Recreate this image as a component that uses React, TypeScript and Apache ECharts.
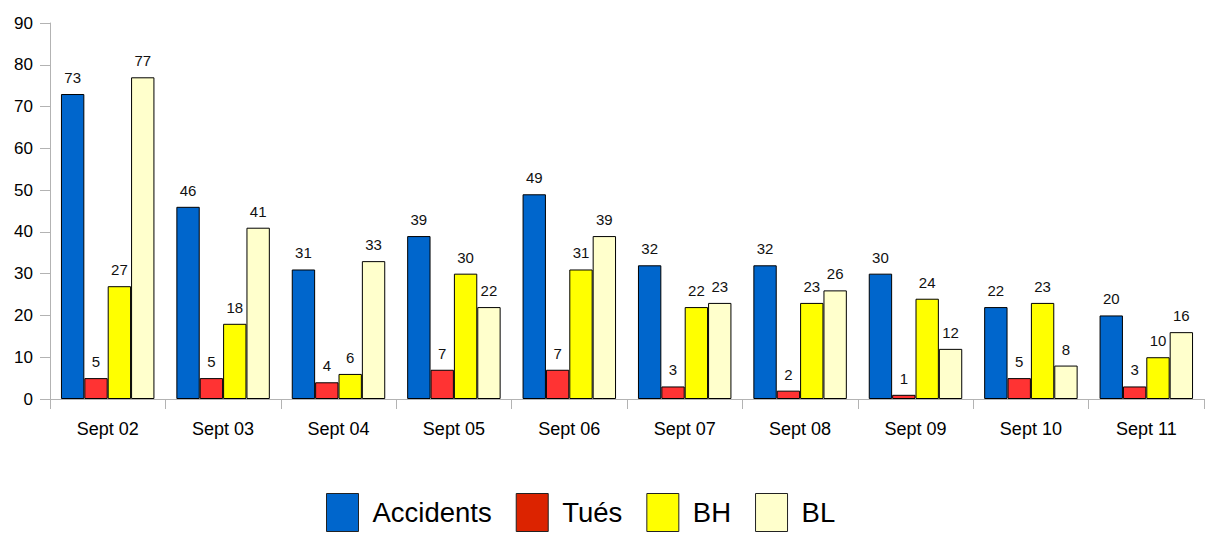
import React, { useEffect, useRef } from "react";
import * as echarts from "echarts";

const categories = ["Sept 02", "Sept 03", "Sept 04", "Sept 05", "Sept 06", "Sept 07", "Sept 08", "Sept 09", "Sept 10", "Sept 11"];
const accidents = [73, 46, 31, 39, 49, 32, 32, 30, 22, 20];
const tues = [5, 5, 4, 7, 7, 3, 2, 1, 5, 3];
const bh = [27, 18, 6, 30, 31, 22, 23, 24, 23, 10];
const bl = [77, 41, 33, 22, 39, 23, 26, 12, 8, 16];
const seriesNames = ["Accidents", "Tués", "BH", "BL"];

const FONT = "'Liberation Sans', Arial, sans-serif";

export default function App() {
  const ref = useRef<HTMLDivElement>(null);
  useEffect(() => {
    if (!ref.current) return;
    const chart = echarts.init(ref.current, null, { renderer: "svg" });
    const mk = (name: string, data: number[], color: string, legendColor: string) => ({
      name,
      type: "bar",
      data,
      barGap: "0%",
      barCategoryGap: "19%",
      itemStyle: { color, borderColor: "#000", borderWidth: 1 },
      label: {
        show: true,
        position: "top",
        distance: 9,
        fontFamily: FONT,
        fontSize: 15,
        color: "#111",
      },
      _legendColor: legendColor,
    });
    const series = [
      mk(seriesNames[0], accidents, "#0066cc", "#0066cc"),
      mk(seriesNames[1], tues, "#ff3333", "#dc2300"),
      mk(seriesNames[2], bh, "#ffff00", "#ffff00"),
      mk(seriesNames[3], bl, "#ffffcc", "#ffffcc"),
    ];
    chart.setOption({
      animation: false,
      grid: { left: 50, right: 1, top: 23, bottom: 136 },
      legend: {
        bottom: 3,
        left: 326,
        padding: 0,
        itemWidth: 32,
        itemHeight: 38,
        itemGap: 24,
        icon: "rect",
        textStyle: { fontFamily: FONT, fontSize: 27.5, color: "#000", padding: [0, 0, 0, 9] },
        data: series.map((s) => ({
          name: s.name,
          itemStyle: { color: s._legendColor, borderColor: "#222", borderWidth: 1 },
        })),
      },
      xAxis: {
        type: "category",
        data: categories,
        axisLine: { lineStyle: { color: "#b3b3b3", width: 1 } },
        axisTick: { show: true, length: 10, lineStyle: { color: "#b3b3b3" } },
        axisLabel: { fontFamily: FONT, fontSize: 18, color: "#000", margin: 21 },
      },
      yAxis: {
        type: "value",
        min: 0,
        max: 90,
        interval: 10,
        splitLine: { show: false },
        axisLine: { show: true, lineStyle: { color: "#b3b3b3", width: 1 } },
        axisTick: { show: true, length: 10, lineStyle: { color: "#b3b3b3" } },
        axisLabel: { fontFamily: FONT, fontSize: 17, color: "#000", margin: 17 },
      },
      series: series.map(({ _legendColor, ...s }) => s),
    });
    return () => chart.dispose();
  }, []);
  return <div ref={ref} style={{ width: 1205, height: 535, position: "absolute", left: 0, top: 0 }} />;
}
